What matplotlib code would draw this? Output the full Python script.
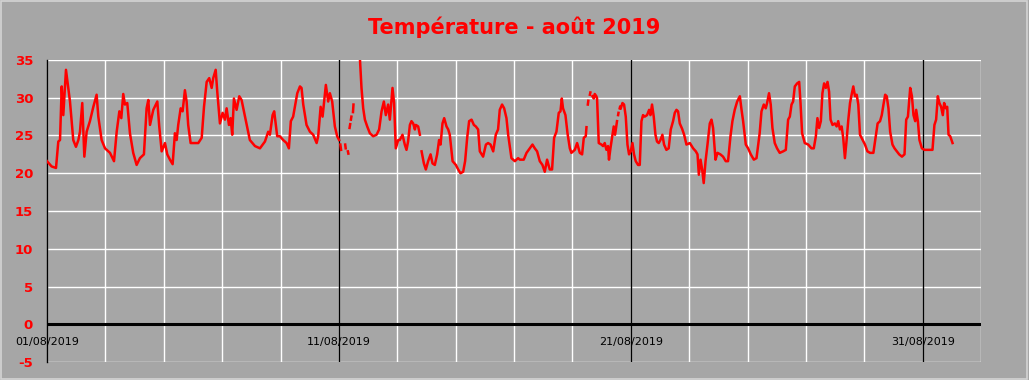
import numpy as np
import pandas as pd
import matplotlib
matplotlib.use("Agg")
import matplotlib.pyplot as plt
from matplotlib.patches import Rectangle

# hours since 01/08/2019 00:00 (nan = gap in the record)
hours = [
    0, 3.8, 7.4, 9.3, 10.7, 12.1, 13.4, 15.6, 18.9, 21.6, 23.8, 25.8, 27.1, 29.0, 30.7, 32.6,
    35.3, 38.1, 40.8, 42.2, 44.9, 47.7, 51.8, 55.1, 57.3, 59.5, 61.1, 62.7, 64.1, 66.0, 68.2,
    70.9, 73.7, 76.4, 79.7, 81.9, 83.3, 84.7, 87.4, 90.7, 92.3,
    94.3, 97.0, 98.9, 101.1, 103.3, 105.2, 106.6, 107.9, 109.9, 111.5, 113.4, 114.8, 116.1,
    118.1, 120.3, 124.4, 127.2, 129.1, 131.3, 133.4, 135.4, 136.7, 138.7, 140.0, 142.2, 144.4,
    146.3, 147.7, 149.6, 151.0, 152.3, 153.7, 155.9, 158.1, 160.0, 161.9, 164.1, 166.8, 171.0,
    175.1, 179.2, 181.9, 183.3, 185.5, 186.8, 189.3,
    191.5, 194.2, 197.0, 198.9, 200.5, 202.4, 203.8, 205.8, 208.0, 209.3, 210.7, 213.4, 216.2,
    218.9, 221.7, 223.0, 225.0, 226.6, 229.3, 231.2, 232.6, 234.5, 236.7, 238.6, 240.2,
    240.7, 241.2, 241.8, 242.5, 245.2, 245.6, 246.5, 247.4, 247.8, 248.3, 248.8, 249.3, 249.6,
    249.9, 250.3, 251.0, 251.6, 252.0, 254.0,
    255.9, 257.3, 258.6, 260.0, 261.4, 263.3, 265.5, 268.2, 271.0, 273.1, 275.1, 277.0, 278.6,
    280.5, 281.9, 284.1, 285.4, 286.8, 288.8,
    290.1, 292.3, 294.2, 295.6, 296.9, 298.4, 299.7, 301.1, 302.5, 303.3, 305.2, 306.6, 307.3,
    308.0, 309.9, 311.5, 313.4, 315.4, 317.0, 318.9, 320.8, 322.4, 323.6, 325.2, 326.6, 328.5,
    329.9, 331.2, 333.5, 336.2, 338.1, 340.0, 342.2, 343.8, 345.5, 347.1, 349.1, 351.0, 352.6,
    354.5, 355.9, 358.6, 360.9, 362.7, 364.7, 366.9, 369.0, 370.9, 372.3, 374.2, 375.9, 377.8,
    379.2, 381.9, 384.7, 387.4,
    388.8, 392.0, 394.3, 397.0, 399.2, 401.1, 403.0, 405.2, 407.4, 409.3, 411.2, 413.4, 415.3,
    417.0, 418.9, 420.8, 422.2, 423.3, 424.3, 426.3, 428.0, 429.9, 431.2, 434.0, 435.9, 438.1,
    440.0, 441.4, 443.0, 443.6, 444.2, 444.7, 445.1, 445.8, 446.4, 446.8, 447.6,
    448.5, 449.6, 450.4, 451.7, 452.3, 453.7, 455.9, 457.2, 458.6, 460.0, 461.3, 462.1, 463.3,
    464.6, 466.0, 467.1, 468.7, 469.2, 469.6, 469.9, 470.4, 470.9, 471.2, 471.5,
    471.8, 473.2, 474.5, 475.9, 477.3, 478.6, 480.0, 481.4, 482.7, 484.1, 486.0,
    487.4, 488.8, 490.1, 491.5, 493.4, 495.1, 496.2, 497.5, 498.9, 500.3, 501.6, 503.0, 504.4,
    506.0, 507.4, 509.3, 511.2, 512.9, 514.8, 516.2, 517.6, 518.9, 520.3, 522.2, 523.9, 525.8,
    528.6, 531.3, 533.5, 534.9, 536.0, 537.4, 538.7, 540.0, 541.5, 543.1, 545.0, 546.4, 547.7,
    549.7, 551.3, 553.7, 555.9, 558.1, 560.0, 562.0, 563.6, 565.5, 567.5, 569.7, 571.1, 572.4,
    574.6, 576.5, 578.7, 581.2, 583.4,
    586.0, 587.5, 589.4, 591.0, 592.1, 593.7, 595.1, 596.5, 598.4, 600.3, 602.5, 605.3, 607.5,
    609.4, 610.8, 612.2, 613.5, 614.9, 616.8, 618.5, 619.6, 620.9, 623.1, 625.9, 628.6, 630.5,
    632.2, 633.5, 634.9, 636.3, 637.6, 639.0, 640.4, 641.8, 643.1, 644.3, 645.9, 647.8, 649.3,
    650.6, 652.0, 653.4, 654.7, 656.1, 657.5, 658.9, 660.3, 661.6, 663.0, 664.4, 665.8, 667.1,
    668.5, 670.7, 672.6, 674.6, 676.8, 679.5,
    681.6, 683.0, 685.0, 686.4, 687.8, 689.2, 690.5, 691.9, 693.3, 695.2, 696.9, 698.8, 700.7,
    703.0, 705.1, 706.5, 707.9, 709.8, 711.2, 712.5, 713.9, 714.7, 716.1, 717.4, 719.4, 721.5,
    724.8, 728.1, 729.7, 731.1, 732.5, 733.8, 735.2, 736.6, 737.7, 739.1, 740.2, 741.3, 742.7,
    744.6,
]

nan = np.nan
temps = [
    21.6, 20.9, 20.7, 24.2, 24.4, 31.5, 27.7, 33.7, 29.5, 24.4, 23.5, 24.4, 25.5, 29.3, 22.2, 25.5,
    26.9, 28.8, 30.4, 27.5, 24.4, 23.3, 22.7, 21.6, 25.5, 28.2, 27.3, 30.5, 29.1, 29.3, 25.3,
    22.7, 21.1, 22.0, 22.5, 28.6, 29.7, 26.4, 28.4, 29.5, 26.2,
    22.9, 24.0, 22.5, 21.8, 21.2, 25.3, 24.4, 26.4, 28.6, 28.2, 31.0, 29.5, 26.4,
    24.0, 24.0, 24.0, 24.7, 28.8, 32.1, 32.6, 31.3, 32.6, 33.7, 30.8, 26.6, 28.0,
    27.1, 28.6, 26.4, 27.3, 25.1, 29.9, 28.4, 30.2, 29.7, 28.2, 26.4, 24.4, 23.6,
    23.3, 24.2, 25.5, 25.1, 27.7, 28.2, 24.9,
    24.9, 24.4, 24.0, 23.3, 26.9, 27.5, 28.8, 30.6, 31.5, 31.3, 29.1, 26.4, 25.5,
    25.1, 24.0, 24.9, 28.8, 27.5, 31.7, 29.5, 30.6, 29.5, 26.2, 24.9, 24.4,
    nan, 23.8, 23.1, nan, 23.8, 23.3, nan, 22.9, 22.6, nan, 26.0, 26.5, nan,
    27.1, 27.5, nan, 28.1, 29.1, nan,
    35.5, 35.2, 31.3, 28.6, 27.1, 26.2, 25.3, 24.9, 25.1, 25.8, 28.2, 29.5, 27.7,
    29.1, 27.1, 31.3, 29.3, 23.3, 24.4,
    24.4, 25.1, 23.8, 23.1, 24.2, 26.4, 26.9, 26.6, 25.8, 26.4, 26.2, 25.1, nan,
    22.9, 21.3, 20.5, 21.6, 22.5, 21.3, 21.1, 22.5, 24.4, 23.8, 26.6, 27.3, 26.2,
    25.8, 25.1, 21.6, 21.1, 20.5, 20.0, 20.2, 21.6, 24.7, 26.9, 27.1, 26.4, 26.2,
    25.8, 22.9, 22.2, 23.8, 24.0, 23.8, 22.9, 25.1, 25.8, 28.4, 29.1, 28.6, 27.3,
    25.1, 22.0, 21.6, 22.0,
    21.8, 21.8, 22.7, 23.3, 23.8, 23.3, 22.9, 21.6, 21.1, 20.2, 21.8, 20.5, 20.5,
    24.7, 25.5, 28.0, 28.2, 29.9, 28.6, 27.7, 25.3, 23.3, 22.7, 23.1, 24.0, 22.7,
    22.5, 24.7, 24.9, 26.1, nan, 29.1, 29.6, nan, 30.4, 30.7, nan,
    30.2, 29.9, 30.5, 30.2, 29.9, 24.0, 23.8, 23.6, 24.0, 23.1, 23.6, 21.8, 23.3,
    24.7, 26.2, 25.1, 26.9, nan, 27.7, 28.0, nan, 28.6, 28.8, nan,
    28.6, 29.3, 29.1, 27.5, 23.8, 22.5, 22.9, 24.0, 22.5, 21.6, 21.1,
    21.1, 26.9, 27.7, 27.5, 27.7, 28.4, 27.7, 29.1, 27.5, 25.1, 24.2, 24.0, 24.4,
    25.1, 23.8, 23.1, 23.3, 25.8, 26.9, 28.0, 28.4, 28.2, 26.6, 25.9, 25.1, 23.8,
    24.0, 23.3, 22.9, 22.5, 19.8, 21.8, 20.5, 18.7, 21.6, 23.8, 26.6, 27.1, 26.0,
    21.8, 22.7, 22.5, 22.2, 21.6, 21.6, 24.9, 26.9, 28.4, 29.5, 30.2, 28.4, 26.9,
    23.8, 23.3, 22.5, 21.8, 22.0,
    25.3, 28.2, 29.1, 28.6, 29.3, 30.6, 29.1, 26.0, 24.0, 23.3, 22.7, 22.9, 23.1,
    27.1, 27.5, 29.1, 29.5, 31.5, 31.9, 32.1, 29.3, 25.3, 24.0, 23.8, 23.3, 23.3,
    24.9, 27.3, 26.0, 26.9, 30.6, 31.9, 31.3, 32.1, 30.8, 27.1, 26.4, 26.6, 26.2,
    26.9, 25.8, 26.2, 24.7, 22.0, 24.4, 27.1, 29.3, 30.4, 31.5, 30.2, 30.4, 29.1,
    25.1, 24.4, 23.8, 22.9, 22.7, 22.7,
    25.1, 26.6, 26.9, 27.7, 29.1, 30.4, 30.2, 28.6, 25.5, 23.8, 23.3, 22.9, 22.5,
    22.2, 22.5, 27.1, 27.5, 31.3, 30.2, 27.7, 26.9, 28.4, 26.9, 24.4, 23.3, 23.1,
    23.1, 23.1, 26.4, 27.1, 30.2, 29.3, 28.8, 27.7, 29.3, 28.6, 28.8, 25.1, 24.9,
    24.0,
]

date_labels = ["01/08/2019", "11/08/2019", "21/08/2019", "31/08/2019"]

start = pd.Timestamp("2019-08-01")
times = start + pd.to_timedelta(hours, unit="h")
bg = "#a6a6a6"

fig = plt.figure(figsize=(10.29, 3.80), dpi=100, facecolor=bg)
fig.patches.append(Rectangle((0.001, 0.002), 0.997, 0.995, transform=fig.transFigure,
                             fill=False, edgecolor="#d4d4d4", linewidth=1.2))
ax = fig.add_axes([47 / 1029, 1 - 362 / 380, (981 - 47) / 1029, (362 - 60) / 380])
ax.set_facecolor(bg)

# grid: white every 5 degrees / every 2 days, black every 10 days
for v in range(-5, 40, 5):
    ax.axhline(v, color="white", linewidth=1.0, zorder=1)
for d in range(0, 33, 2):
    ax.axvline(start + pd.Timedelta(days=d), color="white", linewidth=1.0, zorder=1)
for d in (10, 20, 30):
    ax.axvline(start + pd.Timedelta(days=d), color="black", linewidth=1.0, zorder=2)
ax.axhline(0, color="black", linewidth=2.2, zorder=2)

ax.plot(times, temps, color="#ff0000", linewidth=1.8, zorder=3)

ax.set_xlim(start, start + pd.Timedelta(days=32))
ax.set_ylim(-5, 35)
ax.set_yticks(range(-5, 40, 5))
ax.set_yticklabels([str(v) for v in range(-5, 40, 5)], color="#ff0000",
                   fontweight="bold", fontsize=9.5)
ax.tick_params(axis="y", length=0, pad=10)
ax.set_xticks([])
for s in ("top", "right", "bottom"):
    ax.spines[s].set_visible(False)
ax.spines["left"].set_color("black")
ax.spines["left"].set_linewidth(1.0)

for i, lab in enumerate(date_labels):
    ax.text(start + pd.Timedelta(days=10 * i), -2.3, lab, ha="center", va="center",
            fontsize=8, color="black", zorder=4)

fig.text(0.5, 1 - 27 / 380, "Température - août 2019", ha="center", va="center",
         color="#ff0000", fontweight="bold", fontsize=15)

fig.savefig("out.png", dpi=100, facecolor=bg)
